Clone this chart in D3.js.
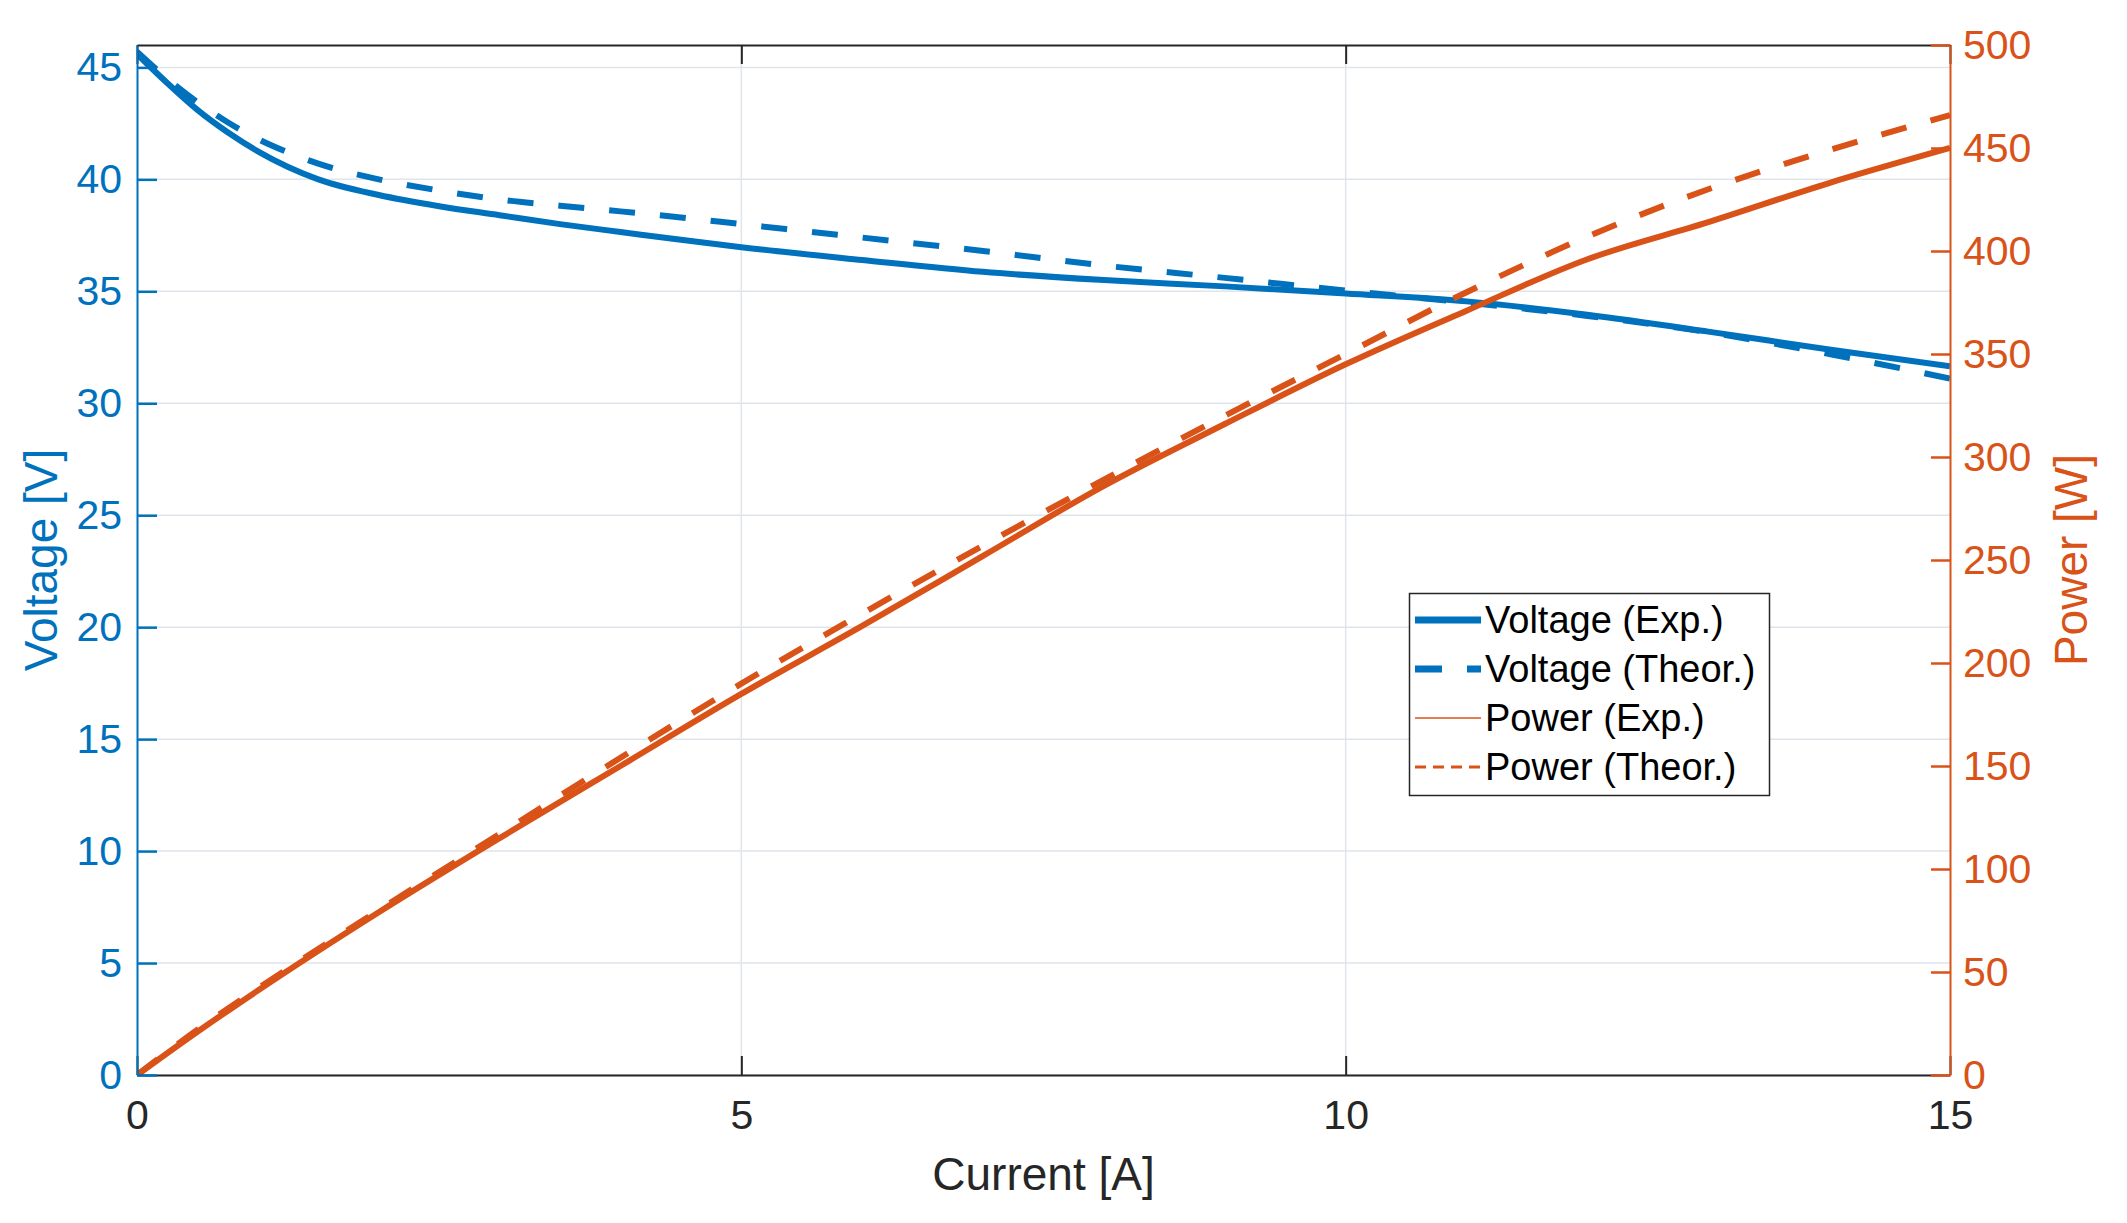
<!DOCTYPE html>
<html>
<head>
<meta charset="utf-8">
<script src="https://cdn.jsdelivr.net/npm/d3@7/dist/d3.min.js"></script>
<style>
html,body{margin:0;padding:0;background:#fff;}
svg{display:block;font-family:"Liberation Sans",Arial,Helvetica,sans-serif;}
</style>
</head>
<body>
<svg id="chart" width="2127" height="1223"></svg>
<script>
// ---------- data ----------
const voltCurrent = [0,0.25,0.5,0.75,1,1.25,1.5,2,2.5,3,3.5,4,4.5,5,6,7,8,9,10,11,12,13,14,15];
const voltageExp   = [45.6,44.3,43.1,42.1,41.25,40.55,40.0,39.3,38.8,38.4,38.0,37.65,37.3,36.97,36.4,35.87,35.5,35.22,34.9,34.55,33.95,33.2,32.4,31.65];
const voltageTheor = [45.7,44.5,43.45,42.55,41.8,41.2,40.7,40.0,39.5,39.1,38.82,38.57,38.3,38.0,37.4,36.8,36.15,35.6,35.03,34.5,33.9,33.17,32.2,31.1];
const powerCurrent = [0,0.5,1,2,3,4,5,6,7,8,9,10,11,12,13,14,15];
const powerExp     = [0,21,41,79,115,150,185,218,252,286,316,345,371,396,414,433,450];
const powerTheor   = [0,22,42,80,117,154,190,224,257,289,320,350,380,407,430,449,466];
const xTicks = [0,5,10,15];
const vTicks = [0,5,10,15,20,25,30,35,40,45];
const pTicks = [0,50,100,150,200,250,300,350,400,450,500];
const legendLabels = ["Voltage (Exp.)","Voltage (Theor.)","Power (Exp.)","Power (Theor.)"];

// ---------- layout ----------
const BLUE = "#0072BD", ORANGE = "#D95319", DARK = "#262626";
const L = 137, R = 1950, T = 45, B = 1075;
const svg = d3.select("#chart");
svg.append("rect").attr("width",2127).attr("height",1223).attr("fill","#fff");

const x = d3.scaleLinear().domain([0,15]).range([L,R]);
const yV = d3.scaleLinear().domain([0,46]).range([B,T]);
const yP = d3.scaleLinear().domain([0,500]).range([B,T]);

// grid
const grid = svg.append("g");
grid.selectAll("line.h").data(vTicks).enter().append("line")
  .attr("x1",L).attr("x2",R).attr("y1",d=>yV(d)).attr("y2",d=>yV(d))
  .attr("stroke","#dfe5ea").attr("stroke-width",1.5);
grid.selectAll("line.v").data(xTicks.slice(1,-1)).enter().append("line")
  .attr("y1",T).attr("y2",B).attr("x1",d=>x(d)).attr("x2",d=>x(d))
  .attr("stroke","#dfe5ea").attr("stroke-width",1.5);

// clip
svg.append("clipPath").attr("id","clip").append("rect")
  .attr("x",L).attr("y",T).attr("width",R-L).attr("height",B-T);

const plot = svg.append("g").attr("clip-path","url(#clip)");
const lineV = d3.line().x((d,i)=>x(voltCurrent[i])).y(d=>yV(d)).curve(d3.curveMonotoneX);
const lineP = d3.line().x((d,i)=>x(powerCurrent[i])).y(d=>yP(d)).curve(d3.curveMonotoneX);

plot.append("path").attr("d",lineV(voltageExp)).attr("fill","none")
  .attr("stroke",BLUE).attr("stroke-width",6);
plot.append("path").attr("d",lineV(voltageTheor)).attr("fill","none")
  .attr("stroke",BLUE).attr("stroke-width",6).attr("stroke-dasharray","26,25");
plot.append("path").attr("d",lineP(powerExp)).attr("fill","none")
  .attr("stroke",ORANGE).attr("stroke-width",6);
plot.append("path").attr("d",lineP(powerTheor)).attr("fill","none")
  .attr("stroke",ORANGE).attr("stroke-width",6).attr("stroke-dasharray","26,25");

// bottom axis
const xAxisB = d3.axisBottom(x).tickValues(xTicks).tickSizeInner(-19).tickSizeOuter(0).tickPadding(30);
const gB = svg.append("g").attr("transform",`translate(0,${B})`).call(xAxisB);
gB.select(".domain").attr("stroke",DARK).attr("stroke-width",2);
gB.selectAll(".tick line").attr("stroke",DARK).attr("stroke-width",2);
gB.selectAll(".tick text").attr("fill",DARK).attr("font-size",41)
  .attr("font-family","Liberation Sans, Arial, sans-serif").attr("dy","0.71em").attr("y",25);

// top axis
const xAxisT = d3.axisTop(x).tickValues(xTicks).tickSizeInner(-19).tickSizeOuter(0).tickFormat("");
const gT = svg.append("g").attr("transform",`translate(0,${T})`).call(xAxisT);
gT.select(".domain").attr("stroke",DARK).attr("stroke-width",2);
gT.selectAll(".tick line").attr("stroke",DARK).attr("stroke-width",2);

// left axis
const yAxisL = d3.axisLeft(yV).tickValues(vTicks).tickSizeInner(-20).tickSizeOuter(0).tickPadding(15);
const gL = svg.append("g").attr("transform",`translate(${L},0)`).call(yAxisL);
gL.select(".domain").attr("stroke",BLUE).attr("stroke-width",2);
gL.selectAll(".tick line").attr("stroke",BLUE).attr("stroke-width",2.5);
gL.selectAll(".tick text").attr("fill",BLUE).attr("font-size",41)
  .attr("font-family","Liberation Sans, Arial, sans-serif").attr("x",-15);

// right axis
const yAxisR = d3.axisRight(yP).tickValues(pTicks).tickSizeInner(-19).tickSizeOuter(0);
const gR = svg.append("g").attr("transform",`translate(${R},0)`).call(yAxisR);
gR.select(".domain").attr("stroke",ORANGE).attr("stroke-width",2);
gR.selectAll(".tick line").attr("stroke",ORANGE).attr("stroke-width",2.5);
gR.selectAll(".tick text").attr("fill",ORANGE).attr("font-size",41)
  .attr("font-family","Liberation Sans, Arial, sans-serif").attr("x",13);

// axis labels
svg.append("text").attr("x",(L+R)/2).attr("y",1190).attr("text-anchor","middle")
  .attr("font-size",46).attr("fill",DARK).text("Current [A]");
svg.append("text").attr("transform",`translate(57,${(T+B)/2}) rotate(-90)`)
  .attr("text-anchor","middle").attr("font-size",46).attr("fill",BLUE).text("Voltage [V]");
svg.append("text").attr("transform",`translate(2087,${(T+B)/2}) rotate(-90)`)
  .attr("text-anchor","middle").attr("font-size",46).attr("fill",ORANGE).text("Power [W]");

// legend
const lg = svg.append("g");
lg.append("rect").attr("x",1409.5).attr("y",593.5).attr("width",360).attr("height",202)
  .attr("fill","#fff").attr("stroke",DARK).attr("stroke-width",1.5);
const legStyles = [
  {c:BLUE,w:7,d:null},
  {c:BLUE,w:7,d:"27,25"},
  {c:ORANGE,w:1.5,d:null},
  {c:ORANGE,w:3,d:"11,7"}
];
const rowY = [620,669,718,767];
legendLabels.forEach((lab,i)=>{
  const s = legStyles[i];
  const ln = lg.append("line").attr("x1",1415).attr("x2",1481).attr("y1",rowY[i]).attr("y2",rowY[i])
    .attr("stroke",s.c).attr("stroke-width",s.w);
  if(s.d) ln.attr("stroke-dasharray",s.d);
  lg.append("text").attr("x",1485).attr("y",rowY[i]+13).attr("font-size",38)
    .attr("fill","#000").text(lab);
});
</script>
</body>
</html>
